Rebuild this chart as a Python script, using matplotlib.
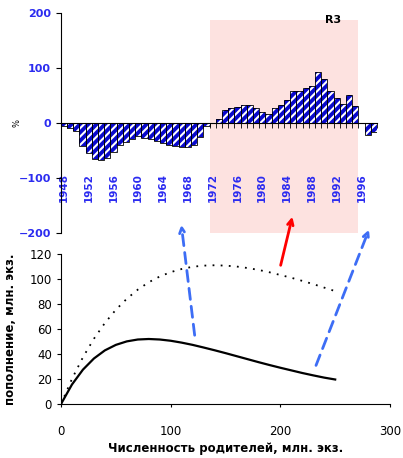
import numpy as np
import matplotlib.pyplot as plt
from matplotlib.patches import Rectangle, FancyArrowPatch

# Верхний график: отклонения пополнения по годам, %
years = list(range(1948, 1999))
anomaly = [-5, -10, -15, -42, -55, -65, -68, -64, -52, -40,
           -35, -30, -24, -28, -30, -33, -36, -40, -42, -44,
           -44, -40, -25, -5, 0, 8, 23, 27, 29, 32,
           32, 27, 20, 16, 27, 33, 42, 59, 59, 64,
           67, 92, 80, 59, 45, 35, 50, 30, 0, -21, -17]
year_labels = [1948, 1952, 1956, 1960, 1964, 1968, 1972,
               1976, 1980, 1984, 1988, 1992, 1996]
r3_start, r3_end, r3_top = 1972, 1995, 188

# Нижний график: кривые "запас - пополнение"
spawners = [0, 10, 20, 30, 40, 50, 60, 70, 80, 90, 100, 110, 120,
            130, 140, 150, 160, 170, 180, 190, 200, 210, 220, 230, 240, 250]
recruits_low = [0, 15.6, 27.5, 36.4, 42.9, 47.3, 50.1, 51.6, 52.0, 51.6,
                50.6, 49.1, 47.3, 45.2, 43.0, 40.7, 38.3, 35.9, 33.5, 31.2,
                29.0, 26.9, 24.8, 22.9, 21.1, 19.6]
recruits_high = [0, 20.1, 37.4, 52.2, 64.8, 75.4, 84.2, 91.5, 97.4, 102.0,
                 105.5, 108.0, 109.8, 110.7, 111.0, 110.7, 110.0, 108.8, 107.3,
                 105.4, 103.2, 101.0, 98.5, 95.9, 93.1, 90.3]

blue_txt = '#2B2BF0'
plt.rcParams['font.family'] = 'DejaVu Sans'
plt.rcParams['hatch.linewidth'] = 1.5

fig = plt.figure(figsize=(4.03, 4.58), dpi=100)

# --- верхний
ax1 = fig.add_axes([0.1506, 0.4913, 0.785, 0.4803])
x = np.arange(len(years))
i0 = years.index(r3_start)
i1 = years.index(r3_end)
ax1.add_patch(Rectangle((i0 - 0.5, -200), i1 - i0 + 1, r3_top + 200,
                        facecolor='#FDE2E0', edgecolor='none', zorder=0))
ax1.bar(x, anomaly, width=1.0, color='#0808CC', edgecolor='white',
        hatch='////', linewidth=0, zorder=2)
ax1.bar(x, anomaly, width=1.0, color='none', edgecolor='black',
        linewidth=0.6, zorder=3)
ax1.text(43.4, r3_top, 'R3', ha='center', va='center', fontsize=8,
         fontweight='bold', zorder=4)

ax1.set_xlim(-0.5, len(years) - 0.5)
ax1.set_ylim(-200, 200)
ax1.spines['top'].set_visible(False)
ax1.spines['right'].set_visible(False)
ax1.spines['bottom'].set_position(('data', 0))
ax1.spines['bottom'].set_zorder(5)
ax1.set_xticks([years.index(y) for y in year_labels])
ax1.set_xticklabels([str(y) for y in year_labels], rotation=90,
                    color=blue_txt, fontsize=7.5, fontweight='bold')
ax1.set_xticks(np.append(x - 0.5, x[-1] + 0.5), minor=True)
ax1.tick_params(axis='x', which='major', length=0, pad=36)
ax1.tick_params(axis='x', which='minor', length=3.5, width=0.6, direction='out')
ax1.set_yticks([-200, -100, 0, 100, 200])
ax1.tick_params(axis='y', length=3.5, width=0.8, labelsize=8,
                labelcolor=blue_txt)
for t in ax1.get_yticklabels():
    t.set_fontweight('bold')
ax1.set_ylabel('%', fontsize=6, labelpad=-2)

# --- нижний
ax2 = fig.add_axes([0.1514, 0.1179, 0.8164, 0.3275])
ax2.plot(spawners, recruits_high, color='black', linestyle=(0, (1, 3.5)), lw=1.3)
ax2.plot(spawners, recruits_low, color='black', lw=1.6)
ax2.set_xlim(0, 300)
ax2.set_ylim(0, 120)
ax2.set_xticks([0, 100, 200, 300])
ax2.set_yticks([0, 20, 40, 60, 80, 100, 120])
ax2.spines['top'].set_visible(False)
ax2.spines['right'].set_visible(False)
ax2.tick_params(axis='x', length=2, pad=13, labelsize=8.5)
ax2.tick_params(axis='y', length=3, labelsize=8.5)
ax2.set_xlabel('Численность родителей, млн. экз.', fontsize=8.5,
               fontweight='bold', labelpad=3)
ax2.set_ylabel('пополнение, млн. экз.', fontsize=8.5, fontweight='bold',
               labelpad=9)

# --- стрелки между графиками (в пикселях рисунка)
W, H = 403, 458
def px(xp, yp):
    return (xp / W, (H - yp) / H)

arrows = [((195, 338), (181, 222), '#3D6DF5', (0, (4, 2.5))),
          ((315, 368), (370, 227), '#3D6DF5', (0, (4, 2.5))),
          ((280, 268), (293, 214), '#FF0000', '-')]
for tail, head, col, ls in arrows:
    fig.add_artist(FancyArrowPatch(px(*tail), px(*head),
                                   transform=fig.transFigure,
                                   arrowstyle='->', mutation_scale=10,
                                   color=col, lw=2, linestyle=ls))

fig.savefig('out.png', dpi=100)
